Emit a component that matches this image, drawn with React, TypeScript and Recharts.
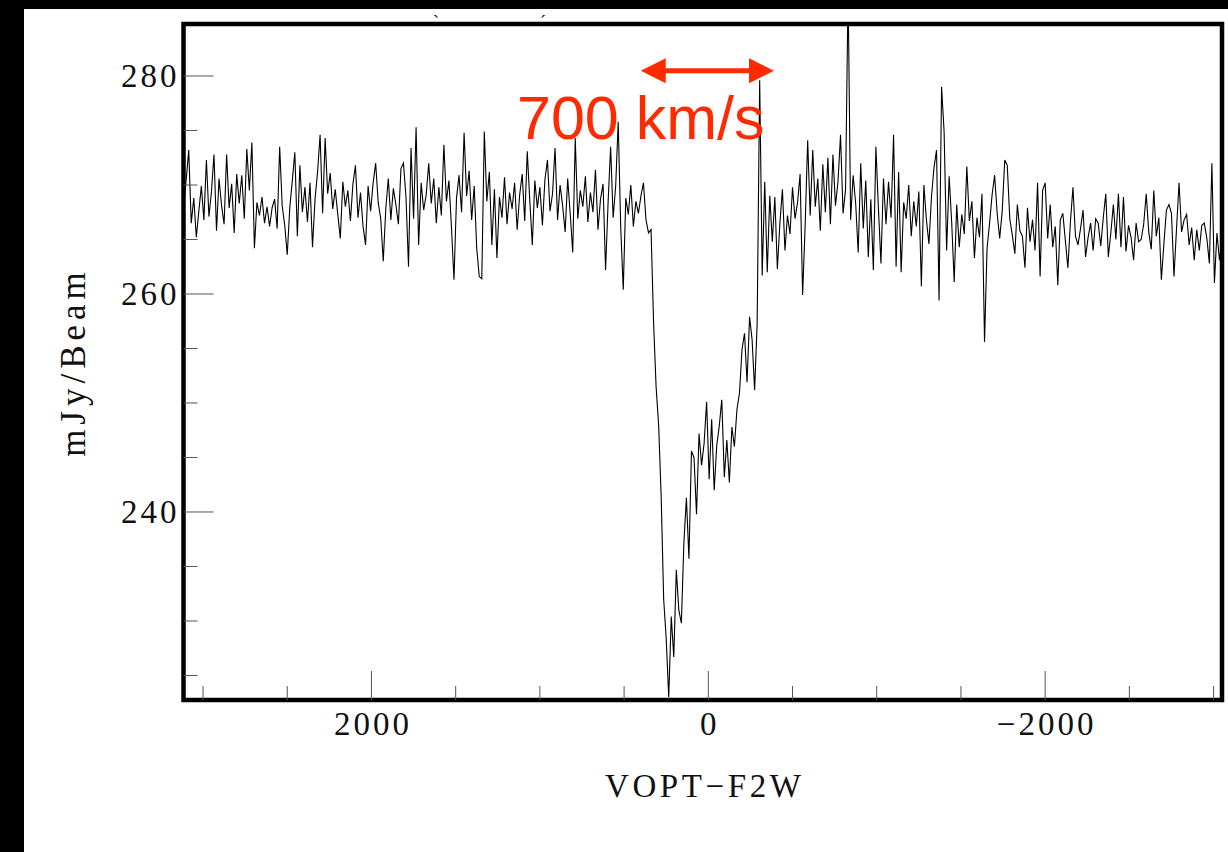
import React from 'react';
import { LineChart, Line, XAxis, YAxis, ReferenceArea, ReferenceLine, ReferenceDot } from 'recharts';

// Spectral axis: channel grid (km/s), velocity decreasing with channel index
const VELOCITY_START = 3115;
const CHANNEL_WIDTH = 15;

// Flux density (mJy/Beam) — continuum on the high-velocity side
const LEFT_CONTINUUM = [
  268.0, 270.5, 273.2, 266.5, 268.8, 265.2, 267.6, 269.9, 266.8, 272.3,
  267.1, 269.4, 272.8, 265.8, 270.6, 268.1, 266.4, 272.8, 267.9, 270.1,
  265.6, 271.0, 268.3, 270.9, 266.9, 273.3, 269.5, 273.9, 264.2, 268.4,
  267.2, 268.9, 266.5, 268.0, 266.2, 267.9, 268.7, 266.0, 273.5, 268.1,
  266.3, 263.6, 267.9, 270.4, 273.0, 265.3, 271.8, 267.5, 269.8, 266.6,
  270.2, 264.3, 268.7, 271.2, 274.6, 267.4, 274.3, 269.2, 271.1, 267.8,
  269.6, 267.3, 265.1, 270.3, 268.0, 269.5, 266.7, 270.1, 271.8, 267.0,
  269.3, 266.2, 264.5, 269.9, 267.6, 270.2, 272.0, 268.4, 266.9, 263.0,
  267.8, 270.6, 266.8, 269.7, 268.2, 266.4, 271.5, 272.0, 268.9, 262.5,
  273.4, 266.9, 275.3, 264.5, 270.2, 267.7, 269.1, 272.0, 268.3, 270.6,
  266.5, 269.8, 267.2, 273.7, 268.5, 270.4, 266.1, 261.3, 268.8, 270.9,
  267.5, 274.8, 269.0, 271.3, 266.8, 269.9, 264.2, 261.6, 261.4, 274.9,
  268.5, 271.2, 264.5, 269.6, 263.3, 268.9, 267.0, 270.7, 266.4, 269.3,
  267.8, 270.2, 265.9, 269.1, 271.0, 266.7, 273.1, 268.6, 264.5, 270.4,
  267.9, 269.8, 266.3, 270.5, 272.3, 267.6, 269.2, 273.4, 266.8, 270.0,
  268.1, 265.7, 270.6, 267.4, 263.8, 274.3, 266.9, 269.5, 268.0, 270.8,
  266.6, 269.3, 267.5, 271.4, 265.9, 268.7, 270.1, 262.2, 268.4, 273.5,
  267.0, 269.9, 275.8, 266.1, 260.4, 268.8, 267.3, 270.0, 266.2, 268.5,
  267.4, 269.0, 270.2, 266.8,
];

// Absorption trough
const ABSORPTION = [
  265.6, 265.9, 257.4, 251.5, 248.0, 241.5, 232.0, 228.4, 223.0, 230.4,
  226.7, 234.7, 231.0, 229.8, 237.2, 241.3, 235.7, 245.6, 245.0, 239.8,
  247.2, 244.3, 246.3, 250.1, 243.0, 248.5, 242.0, 246.1, 247.9, 250.3,
  243.2, 246.6, 242.7, 247.8, 246.0, 249.4, 250.9, 254.9, 256.4, 251.9,
  257.9, 255.8, 251.2, 257.3, 279.6, 261.7, 270.3, 262.0, 269.0,
];

// Continuum on the low-velocity side
const RIGHT_CONTINUUM = [
  264.8, 268.9, 262.3, 266.5, 269.6, 264.0, 267.2,
  265.5, 269.8, 266.9, 268.4, 271.0, 259.9, 266.3, 274.1, 267.2, 273.2,
  268.0, 270.6, 265.8, 271.9, 267.5, 272.5, 266.4, 272.8, 268.1, 270.3,
  274.6, 267.4, 269.6, 288.0, 266.8, 270.9, 268.3, 263.8, 272.0, 266.0,
  270.4, 263.4, 268.7, 262.2, 273.5, 267.9, 262.8, 270.6, 266.4, 270.3,
  267.0, 274.6, 262.5, 271.2, 262.0, 268.4, 266.9, 270.0, 265.3, 268.5,
  266.2, 269.4, 260.7, 270.0, 266.8, 264.6, 268.9, 271.6, 273.2, 259.4,
  279.0, 274.9, 264.0, 270.8, 266.6, 261.1, 268.2, 264.3, 267.3, 265.5,
  271.7, 266.7, 268.5, 263.3, 267.0, 265.2, 269.2, 255.6, 264.2, 266.5,
  269.1, 270.9, 267.4, 265.1, 267.6, 272.3, 271.8, 266.9, 265.4, 263.7,
  268.2, 265.8, 265.3, 262.4, 267.9, 264.8, 266.8, 264.0, 270.2, 261.6,
  269.5, 270.2, 265.1, 268.2, 264.3, 266.2, 260.8, 266.8, 267.4, 264.9,
  262.4, 266.6, 269.8, 265.3, 264.5, 266.0, 267.7, 263.4, 265.2, 266.5,
  264.0, 266.9, 266.5, 264.4, 267.0, 269.2, 263.4, 265.6, 268.2, 265.0,
  269.2, 264.3, 268.9, 263.9, 266.3, 265.2, 263.1, 266.5, 264.8, 265.0,
  266.4, 269.2, 265.7, 264.1, 269.5, 265.3, 267.0, 261.3, 264.6, 267.7,
  268.2, 267.4, 261.6, 266.0, 270.2, 265.7, 266.8, 267.3, 264.5, 266.1,
  263.1, 265.9, 264.0, 266.3, 266.5, 265.1, 262.8, 272.0, 261.0, 265.6, 263.1, 265.0,
];

const X_TICKS = [3000, 2500, 2000, 1500, 1000, 500, 0, -500, -1000, -1500, -2000, -2500, -3000];
const X_LABELS = [2000, 0, -2000];
const Y_TICKS = [225, 230, 235, 240, 245, 250, 255, 260, 265, 270, 275, 280];
const Y_LABELS = [240, 260, 280];
const X_DOMAIN = [-3050, 3116];
const Y_DOMAIN = [222.75, 284.77];

const ARROW = { from: 401, to: -390, level: 280.49 };
const NOTE = { text: '700 km/s', v: 1136, f: 274.2 };

const X_TITLE = 'VOPT\u2212F2W';
const Y_TITLE = 'mJy/Beam';

const RED = '#ff2a00';
const SERIF = "'Liberation Serif', 'DejaVu Serif', serif";
const SANS = "'Liberation Sans', Arial, sans-serif";
const TICK_COLOR = '#555';

const spectrum = [...LEFT_CONTINUUM, ...ABSORPTION, ...RIGHT_CONTINUUM];
const data = spectrum.map((f, i) => ({ v: VELOCITY_START - CHANNEL_WIDTH * i, f }));

const fmt = (v: number) => (v < 0 ? '\u2212' + Math.abs(v) : String(v));

const XTick = (props: any) => {
  const { x, y, payload, side } = props;
  const major = X_LABELS.includes(payload.value);
  const len = major ? 29 : 14;
  const dir = side === 'top' ? 1 : -1;
  return (
    <g>
      <line x1={x} x2={x} y1={y} y2={y + dir * len} stroke={TICK_COLOR} strokeWidth={1} />
      {side === 'bottom' && major && (
        <text x={x + 1.5} y={y + 35} textAnchor="middle" fill="#111" fontSize={33} fontFamily={SERIF} letterSpacing={3}>
          {fmt(payload.value)}
        </text>
      )}
    </g>
  );
};

const YTick = (props: any) => {
  const { x, y, payload, side } = props;
  const major = Y_LABELS.includes(payload.value);
  const len = major ? 30 : 14;
  const dir = side === 'left' ? 1 : -1;
  return (
    <g>
      <line x1={x} x2={x + dir * len} y1={y} y2={y} stroke={TICK_COLOR} strokeWidth={1} />
      {side === 'left' && major && (
        <text x={x - 4} y={y + 11} textAnchor="end" fill="#111" fontSize={33} fontFamily={SERIF} letterSpacing={3}>
          {fmt(payload.value)}
        </text>
      )}
    </g>
  );
};

const ArrowShape = (props: any) => {
  const { x1, y1, x2 } = props;
  const l = Math.min(x1, x2);
  const r = Math.max(x1, x2);
  const y = y1;
  const hl = 25;
  const hh = 12.5;
  return (
    <g>
      <line x1={l + hl - 2} x2={r - hl + 2} y1={y} y2={y} stroke={RED} strokeWidth={5} />
      <polygon points={`${l},${y} ${l + hl},${y - hh} ${l + hl},${y + hh}`} fill={RED} />
      <polygon points={`${r},${y} ${r - hl},${y - hh} ${r - hl},${y + hh}`} fill={RED} />
    </g>
  );
};

const NoteShape = (props: any) => {
  const { cx, cy } = props;
  return (
    <text x={cx} y={cy} fill={RED} fontSize={61} fontFamily={SANS}>
      {NOTE.text}
    </text>
  );
};

export default function App() {
  return (
    <div style={{ position: 'absolute', left: 0, top: 0, width: 1228, height: 852, background: '#fff', overflow: 'hidden' }}>
      <LineChart
        width={1228}
        height={852}
        data={data}
        margin={{ top: 24, right: 6, bottom: 0, left: 0 }}
      >
        <XAxis
          dataKey="v"
          type="number"
          domain={X_DOMAIN}
          reversed
          allowDataOverflow
          ticks={X_TICKS}
          interval={0}
          height={152}
          axisLine={false}
          tickLine={false}
          tickSize={0}
          tickMargin={0}
          tick={(p: any) => <XTick {...p} side="bottom" />}
          label={{
            position: 'insideBottom',
            content: (p: any) => {
              const vb = p.viewBox;
              return (
                <text x={vb.x + vb.width / 2 + 2} y={vb.y + 97} textAnchor="middle" fill="#111" fontSize={33} fontFamily={SERIF} letterSpacing={3.6}>
                  {X_TITLE}
                </text>
              );
            },
          }}
        />
        <XAxis
          xAxisId="top"
          orientation="top"
          dataKey="v"
          type="number"
          domain={X_DOMAIN}
          reversed
          allowDataOverflow
          ticks={X_TICKS}
          interval={0}
          height={0}
          axisLine={false}
          tickLine={false}
          tickSize={0}
          tickMargin={0}
          tick={(p: any) => <XTick {...p} side="top" />}
        />
        <YAxis
          type="number"
          domain={Y_DOMAIN}
          allowDataOverflow
          ticks={Y_TICKS}
          interval={0}
          width={183.5}
          axisLine={false}
          tickLine={false}
          tickSize={0}
          tickMargin={0}
          tick={(p: any) => <YTick {...p} side="left" />}
          label={{
            position: 'insideLeft',
            content: (p: any) => {
              const vb = p.viewBox;
              const cx = vb.x + 85;
              const cy = vb.y + vb.height / 2;
              return (
                <text x={cx} y={cy} transform={`rotate(-90, ${cx}, ${cy})`} textAnchor="middle" fill="#111" fontSize={35} fontFamily={SERIF} letterSpacing={5}>
                  {Y_TITLE}
                </text>
              );
            },
          }}
        />
        <YAxis
          yAxisId="right"
          orientation="right"
          type="number"
          domain={Y_DOMAIN}
          allowDataOverflow
          ticks={Y_TICKS}
          interval={0}
          width={0}
          axisLine={false}
          tickLine={false}
          tickSize={0}
          tickMargin={0}
          tick={(p: any) => <YTick {...p} side="right" />}
        />
        <Line
          type="linear"
          dataKey="f"
          stroke="#000"
          strokeWidth={1.1}
          dot={false}
          activeDot={false}
          isAnimationActive={false}
        />
        <ReferenceArea
          x1={X_DOMAIN[1]}
          x2={X_DOMAIN[0]}
          y1={Y_DOMAIN[0]}
          y2={Y_DOMAIN[1]}
          fill="none"
          fillOpacity={0}
          stroke="#000"
          strokeWidth={4.5}
          ifOverflow="visible"
        />
        <ReferenceLine
          segment={[{ x: ARROW.from, y: ARROW.level }, { x: ARROW.to, y: ARROW.level }]}
          ifOverflow="visible"
          shape={ArrowShape}
        />
        <ReferenceDot x={NOTE.v} y={NOTE.f} r={0} ifOverflow="visible" shape={NoteShape} />
      </LineChart>
      <div style={{ position: 'absolute', left: 0, top: 0, width: 1228, height: 9, background: '#000' }} />
      <div style={{ position: 'absolute', left: 0, top: 0, width: 24, height: 852, background: '#000' }} />
      <div style={{ position: 'absolute', left: 433, top: 13, fontSize: 18, fontFamily: SERIF, color: '#111', lineHeight: '18px' }}>`</div>
      <div style={{ position: 'absolute', left: 540, top: 13, fontSize: 18, fontFamily: SERIF, color: '#111', lineHeight: '18px' }}>´</div>
    </div>
  );
}
